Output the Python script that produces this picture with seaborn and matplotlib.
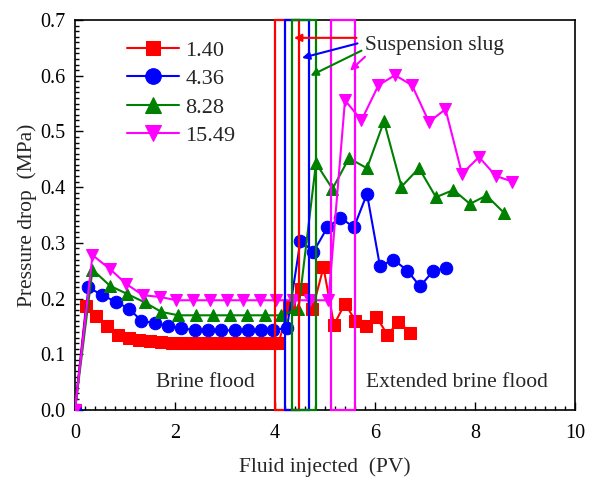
import matplotlib
matplotlib.use("Agg")
import matplotlib.pyplot as plt
import seaborn as sns
import pandas as pd
from matplotlib.patches import Rectangle
from matplotlib.ticker import MultipleLocator, FormatStrFormatter

sns.set_theme(style="ticks")
plt.rcParams['font.family'] = ['Liberation Serif', 'DejaVu Serif']
plt.rcParams['mathtext.fontset'] = 'stix'

labels = ["1.40", "4.36", "8.28", "15.49"]
colors = ["#FF0000", "#0000FF", "#008000", "#FF00FF"]
markers = ["s", "o", "^", "v"]

x_140 = [0, 0.22, 0.43, 0.65, 0.86, 1.08, 1.29, 1.51, 1.72, 1.94, 2.15, 2.37, 2.58, 2.80,
         3.01, 3.23, 3.44, 3.66, 3.87, 4.07, 4.28, 4.53, 4.75, 4.97, 5.18, 5.40, 5.61,
         5.82, 6.03, 6.25, 6.47, 6.71]
y_140 = [0, 0.186, 0.168, 0.151, 0.135, 0.129, 0.126, 0.123, 0.122, 0.120, 0.120, 0.120,
         0.120, 0.120, 0.120, 0.120, 0.120, 0.120, 0.120, 0.120, 0.185, 0.218, 0.181,
         0.256, 0.153, 0.191, 0.160, 0.150, 0.167, 0.135, 0.158, 0.139]

x_436 = [0, 0.27, 0.55, 0.82, 1.08, 1.33, 1.60, 1.87, 2.13, 2.40, 2.67, 2.93, 3.20, 3.47,
         3.73, 3.97, 4.24, 4.51, 4.77, 5.05, 5.31, 5.58, 5.84, 6.10, 6.37, 6.65, 6.90,
         7.17, 7.43]
y_436 = [0, 0.220, 0.206, 0.194, 0.182, 0.160, 0.156, 0.151, 0.147, 0.143, 0.143, 0.143,
         0.143, 0.143, 0.143, 0.143, 0.148, 0.304, 0.284, 0.328, 0.345, 0.328, 0.388,
         0.258, 0.270, 0.250, 0.222, 0.250, 0.255]

x_828 = [0, 0.35, 0.70, 1.05, 1.40, 1.73, 2.07, 2.42, 2.76, 3.10, 3.45, 3.80, 4.13, 4.47,
         4.82, 5.15, 5.48, 5.84, 6.18, 6.53, 6.88, 7.22, 7.57, 7.90, 8.23, 8.58]
y_828 = [0, 0.252, 0.223, 0.208, 0.193, 0.176, 0.170, 0.170, 0.170, 0.170, 0.170, 0.170,
         0.170, 0.181, 0.443, 0.397, 0.452, 0.434, 0.518, 0.401, 0.434, 0.382, 0.395,
         0.370, 0.385, 0.354]

x_1549 = [0, 0.35, 0.70, 1.03, 1.36, 1.70, 2.03, 2.37, 2.71, 3.04, 3.37, 3.70, 4.03, 4.37,
          4.70, 5.07, 5.40, 5.73, 6.07, 6.40, 6.74, 7.08, 7.41, 7.74, 8.08, 8.42, 8.75]
y_1549 = [0, 0.278, 0.253, 0.226, 0.206, 0.203, 0.197, 0.197, 0.197, 0.197, 0.197, 0.197,
          0.197, 0.197, 0.197, 0.197, 0.556, 0.520, 0.583, 0.601, 0.583, 0.517, 0.540,
          0.424, 0.454, 0.420, 0.410]

# suspension slug injection windows (PV)
slug_start = [4.00, 4.21, 4.35, 5.13]
slug_end = [4.48, 4.69, 4.83, 5.60]

xs = [x_140, x_436, x_828, x_1549]
ys = [y_140, y_436, y_828, y_1549]

fig = plt.figure(figsize=(5.89, 4.80), dpi=100)
ax = fig.add_axes([0.1273, 0.1458, 0.8489, 0.8125])

for x, y, lab, c, m in zip(xs, ys, labels, colors, markers):
    df = pd.DataFrame({"x": x, "y": y})
    ms = 8 if m == "s" else 9
    sns.lineplot(data=df, x="x", y="y", ax=ax, color=c, marker=m, markersize=ms,
                 markeredgecolor=c, markerfacecolor=c, linewidth=1.5,
                 estimator=None, sort=False, label=lab, zorder=3)

for s, e, c in zip(slug_start, slug_end, colors):
    ax.add_patch(Rectangle((s, 0), e - s, 0.7, fill=False, edgecolor=c,
                           linewidth=1.6, zorder=4, clip_on=False))

arrow_tails = [(5.63, 0.668), (5.65, 0.658), (5.73, 0.645), (5.80, 0.634)]
arrow_heads = [(4.38, 0.668), (4.54, 0.632), (4.71, 0.600), (5.50, 0.609)]
for (tx, ty), (hx, hy), c in zip(arrow_tails, arrow_heads, colors):
    ax.annotate("", xy=(hx, hy), xytext=(tx, ty),
                arrowprops=dict(arrowstyle="-|>", color=c, lw=1.5,
                                mutation_scale=11, shrinkA=0, shrinkB=0), zorder=5)

ax.text(5.8, 0.655, "Suspension slug", fontsize=15.5, va="center", ha="left")
ax.text(2.6, 0.05, "Brine flood", fontsize=15.5, va="center", ha="center")
ax.text(7.64, 0.05, "Extended brine flood", fontsize=15.5, va="center", ha="center")

ax.set_xlim(0, 10)
ax.set_ylim(0, 0.7)
ax.xaxis.set_major_locator(MultipleLocator(2))
ax.xaxis.set_minor_locator(MultipleLocator(0.2))
ax.yaxis.set_major_locator(MultipleLocator(0.1))
ax.yaxis.set_minor_locator(MultipleLocator(0.01))
ax.yaxis.set_major_formatter(FormatStrFormatter("%.1f"))
ax.tick_params(axis="both", which="both", direction="in", top=False, right=False,
               labelsize=14.5, colors="black")
ax.tick_params(which="major", length=6, width=1)
ax.tick_params(which="minor", length=3, width=1)
ax.tick_params(axis="x", which="major", pad=10)
ax.tick_params(axis="y", which="major", pad=7)
for sp in ax.spines.values():
    sp.set_visible(True)
    sp.set_color("black")
    sp.set_linewidth(1.2)

ax.set_xlabel("Fluid injected  (PV)", fontsize=15.5, labelpad=10)
ax.set_ylabel("Pressure drop  (MPa)", fontsize=15.5, labelpad=2)

leg = ax.legend(loc="upper left", bbox_to_anchor=(0.065, 1.0), frameon=False,
                fontsize=16, handlelength=2.3, handletextpad=0.3, labelspacing=0.36,
                markerscale=1.25)

fig.savefig("out.png", dpi=100)
